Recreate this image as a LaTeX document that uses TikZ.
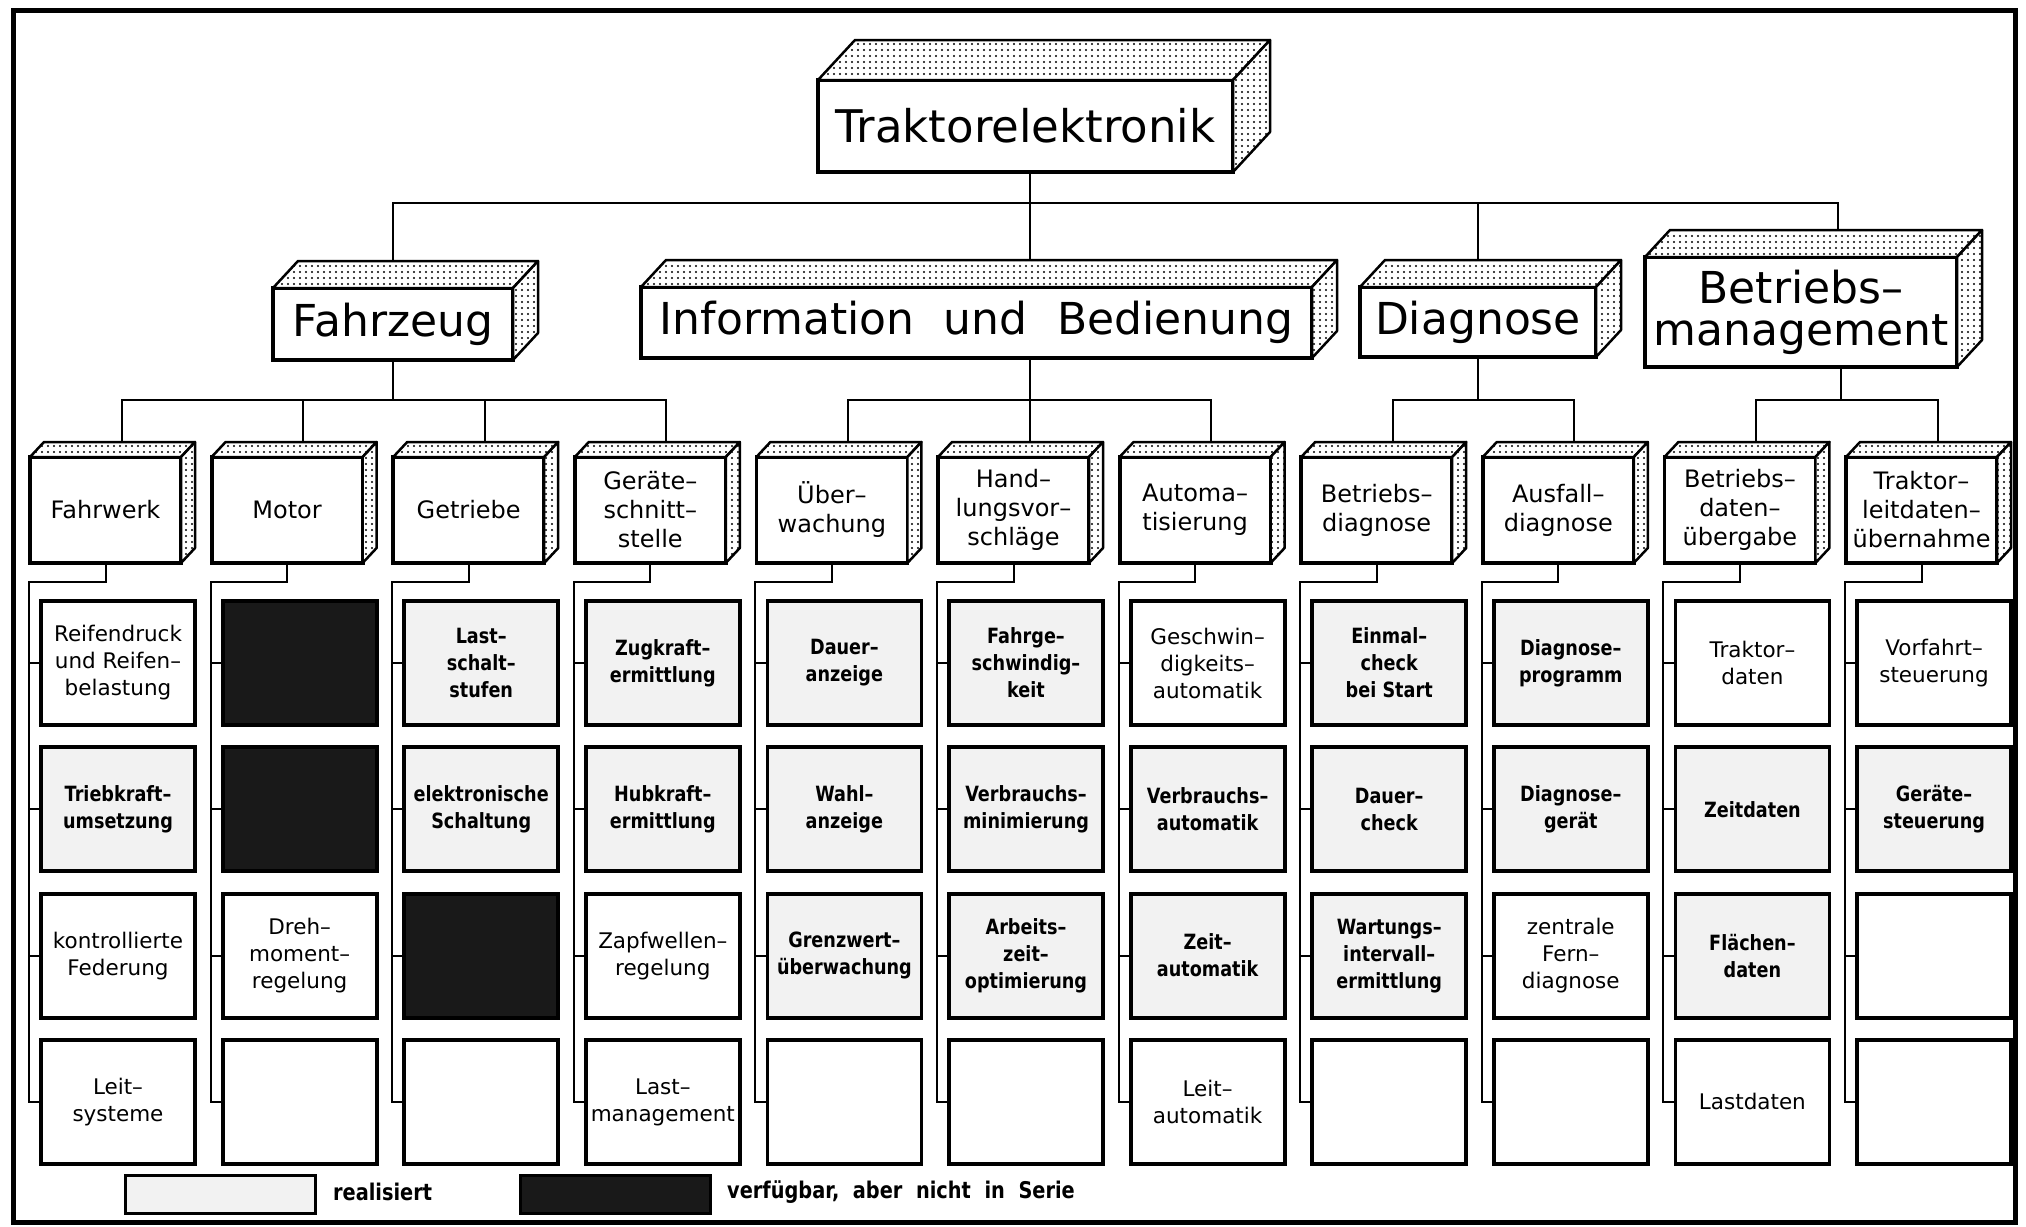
\documentclass[tikz,border=0pt]{standalone}
\usepackage{fontspec}
\setmainfont{DejaVu Sans}
\newfontfamily\condfont[FakeStretch=0.84]{DejaVu Sans}
\usetikzlibrary{patterns,calc}
\pgfdeclarepatternformonly{bigdots}{\pgfqpoint{-1.5pt}{-1.5pt}}{\pgfqpoint{1.5pt}{1.5pt}}{\pgfqpoint{6pt}{6pt}}{\pgfpathcircle{\pgfqpoint{0pt}{0pt}}{1.1pt}\pgfusepath{fill}}
\tikzset{
  conn/.style={line width=2pt},
  face/.style={draw, line width=2.5pt, line join=round, fill=white, postaction={pattern=bigdots}},
  frontbox/.style={draw, line width=4.5pt, fill=white, inner sep=0pt, outer sep=0pt, align=center},
  topbox/.style={frontbox, minimum width=415pt, minimum height=92pt, font=\fontsize{45}{50}\selectfont},
  midbox/.style={frontbox, font=\fontsize{44}{42}\selectfont},
  subbox/.style={frontbox, line width=3.8pt, minimum width=151pt, minimum height=106pt, font=\fontsize{24}{29}\selectfont},
  leaf/.style={draw, line width=3.8pt, inner sep=0pt, outer sep=0pt, minimum width=154pt, minimum height=124pt, align=center, anchor=north west, fill=white, font=\fontsize{21.5}{27}\selectfont},
  real/.style={leaf, fill=black!5, font=\condfont\bfseries\fontsize{21}{27}\selectfont},
  dark/.style={leaf, fill=black!90},
  legendbox/.style={draw, line width=3pt, inner sep=0pt, outer sep=0pt, minimum width=190pt, minimum height=38pt, anchor=north west},
  legendtext/.style={anchor=west, inner sep=0pt, font=\condfont\bfseries\fontsize{23}{27}\selectfont}
}
\newcommand\cubefaces[3]{%
  \path[face] (#1.north west) -- ($(#1.north west)+(#2,-#3)$) -- ($(#1.north east)+(#2,-#3)$) -- (#1.north east) -- cycle;
  \path[face] (#1.north east) -- ($(#1.north east)+(#2,-#3)$) -- ($(#1.south east)+(#2,-#3)$) -- (#1.south east) -- cycle;}
\newcommand\subnode[2]{%
  \node[subbox] (S#1) at ({105.5+181.6*#1},510) {#2};
  \cubefaces{S#1}{14}{15}}
\newcommand\leafnode[4]{%
  \node[#1] (L#2-#3) at ({41+181.6*#2},{601+146.3*(#3-1)}) {#4};
  \draw[conn] (S#2.south) -- ++(0,19) -| ([xshift=-12pt]L#2-#3.west) -- (L#2-#3.west);}
\begin{document}
\begin{tikzpicture}[x=1pt,y=-1pt]
\useasboundingbox (0,0) rectangle (2026,1226);
\fill[white] (0,0) rectangle (2026,1226);
\draw[line width=5pt] (13,10) rectangle (2015,1222);
\coordinate (bus1) at (0,203);
\coordinate (bus2) at (0,400);

% top level
\node[topbox] (T) at (1025.5,126) {Traktorelektronik};
\cubefaces{T}{37}{40}

% second level
\node[midbox, minimum width=240pt, minimum height=72pt] (F) at (393,324) {Fahrzeug};
\node[midbox, minimum width=671pt, minimum height=71pt] (I) at (976.5,322.5) {Information\hspace{0.35em} und\hspace{0.35em} Bedienung};
\node[midbox, minimum width=236pt, minimum height=70pt] (D) at (1478,322) {Diagnose};
\node[midbox, minimum width=312pt, minimum height=110pt] (B) at (1801,312) {Betriebs–\\management};
\foreach \n in {F,I,D,B} {\cubefaces{\n}{25}{27}}

\draw[conn] ([xshift=4.5pt]T.south) -- ([xshift=4.5pt]T.south |- bus1) -| ([yshift=27pt]F.north);
\draw[conn] ([xshift=4.5pt]T.south) -- ([xshift=4.5pt]T.south |- bus1) -| ([xshift=53.5pt,yshift=27pt]I.north);
\draw[conn] ([xshift=4.5pt]T.south) -- ([xshift=4.5pt]T.south |- bus1) -| ([yshift=27pt]D.north);
\draw[conn] ([xshift=4.5pt]T.south) -- ([xshift=4.5pt]T.south |- bus1) -| ([xshift=37pt,yshift=27pt]B.north);

% third level
\subnode{0}{Fahrwerk}
\subnode{1}{Motor}
\subnode{2}{Getriebe}
\subnode{3}{Geräte–\\schnitt–\\stelle}
\subnode{4}{Über–\\wachung}
\subnode{5}{Hand–\\lungsvor–\\schläge}
\subnode{6}{Automa–\\tisierung}
\subnode{7}{Betriebs–\\diagnose}
\subnode{8}{Ausfall–\\diagnose}
\subnode{9}{Betriebs–\\daten–\\übergabe}
\subnode{10}{Traktor–\\leitdaten–\\übernahme}

\foreach \k in {0,1,2,3} {\draw[conn] (F.south) -- (F.south |- bus2) -| ([xshift=16pt,yshift=15pt]S\k.north);}
\foreach \k in {4,5,6} {\draw[conn] ([xshift=53.5pt]I.south) -- ([xshift=53.5pt]I.south |- bus2) -| ([xshift=16pt,yshift=15pt]S\k.north);}
\foreach \k in {7,8} {\draw[conn] (D.south) -- (D.south |- bus2) -| ([xshift=16pt,yshift=15pt]S\k.north);}
\foreach \k in {9,10} {\draw[conn] ([xshift=40pt]B.south) -- ([xshift=40pt]B.south |- bus2) -| ([xshift=16pt,yshift=15pt]S\k.north);}

% leaves
\leafnode{leaf}{0}{1}{Reifendruck\\und Reifen–\\belastung}
\leafnode{real}{0}{2}{Triebkraft–\\umsetzung}
\leafnode{leaf}{0}{3}{kontrollierte\\Federung}
\leafnode{leaf}{0}{4}{Leit–\\systeme}

\leafnode{dark}{1}{1}{}
\leafnode{dark}{1}{2}{}
\leafnode{leaf}{1}{3}{Dreh–\\moment–\\regelung}
\leafnode{leaf}{1}{4}{}

\leafnode{real}{2}{1}{Last–\\schalt–\\stufen}
\leafnode{real}{2}{2}{elektronische\\Schaltung}
\leafnode{dark}{2}{3}{}
\leafnode{leaf}{2}{4}{}

\leafnode{real}{3}{1}{Zugkraft–\\ermittlung}
\leafnode{real}{3}{2}{Hubkraft–\\ermittlung}
\leafnode{leaf}{3}{3}{Zapfwellen–\\regelung}
\leafnode{leaf}{3}{4}{Last–\\management}

\leafnode{real}{4}{1}{Dauer–\\anzeige}
\leafnode{real}{4}{2}{Wahl–\\anzeige}
\leafnode{real}{4}{3}{Grenzwert–\\überwachung}
\leafnode{leaf}{4}{4}{}

\leafnode{real}{5}{1}{Fahrge–\\schwindig–\\keit}
\leafnode{real}{5}{2}{Verbrauchs–\\minimierung}
\leafnode{real}{5}{3}{Arbeits–\\zeit–\\optimierung}
\leafnode{leaf}{5}{4}{}

\leafnode{leaf}{6}{1}{Geschwin–\\digkeits–\\automatik}
\leafnode{real}{6}{2}{Verbrauchs–\\automatik}
\leafnode{real}{6}{3}{Zeit–\\automatik}
\leafnode{leaf}{6}{4}{Leit–\\automatik}

\leafnode{real}{7}{1}{Einmal–\\check\\bei Start}
\leafnode{real}{7}{2}{Dauer–\\check}
\leafnode{real}{7}{3}{Wartungs–\\intervall–\\ermittlung}
\leafnode{leaf}{7}{4}{}

\leafnode{real}{8}{1}{Diagnose–\\programm}
\leafnode{real}{8}{2}{Diagnose–\\gerät}
\leafnode{leaf}{8}{3}{zentrale\\Fern–\\diagnose}
\leafnode{leaf}{8}{4}{}

\leafnode{leaf}{9}{1}{Traktor–\\daten}
\leafnode{real}{9}{2}{Zeitdaten}
\leafnode{real}{9}{3}{Flächen–\\daten}
\leafnode{leaf}{9}{4}{Lastdaten}

\leafnode{leaf}{10}{1}{Vorfahrt–\\steuerung}
\leafnode{real}{10}{2}{Geräte–\\steuerung}
\leafnode{leaf}{10}{3}{}
\leafnode{leaf}{10}{4}{}

% legend
\node[legendbox, fill=black!5] (lg1) at (125,1175) {};
\node[legendtext] (lt1) at (333,1192) {realisiert};
\node[legendbox, fill=black!90] (lg2) at (520,1175) {};
\node[legendtext] (lt2) at (727,1192) {verfügbar,\hspace{0.3em} aber\hspace{0.3em} nicht\hspace{0.3em} in\hspace{0.3em} Serie};
\end{tikzpicture}
\end{document}
